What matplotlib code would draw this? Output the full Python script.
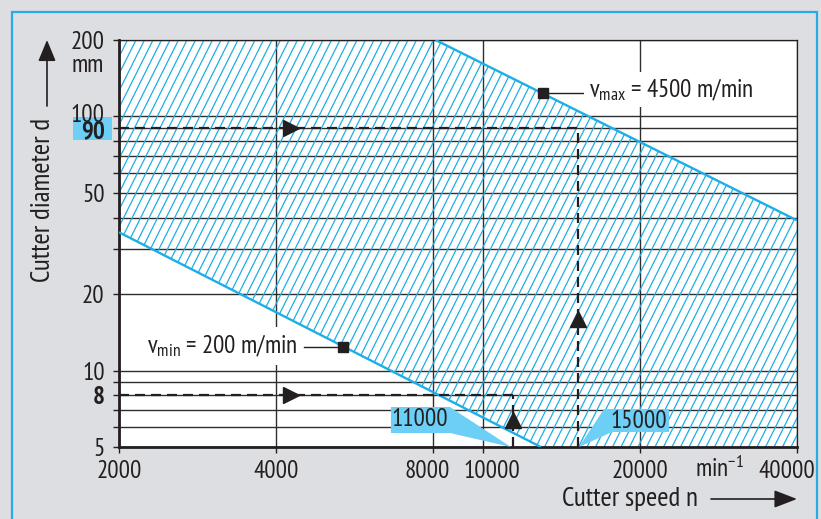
import numpy as np
import matplotlib
matplotlib.use("Agg")
import matplotlib.pyplot as plt
from matplotlib.patches import Polygon, Rectangle, FancyArrowPatch
from matplotlib.collections import LineCollection
from matplotlib.transforms import IdentityTransform, ScaledTranslation

plt.rcParams['font.family'] = ['PT Sans Narrow', 'DejaVu Sans']
plt.rcParams['mathtext.default'] = 'regular'

# chart data
n_lim = [2000, 40000]
d_lim = [5, 200]
vmax_n = [8100, 40000]
vmax_d = [200, 39]
vmin_n = [2000, 12900]
vmin_d = [35, 5]
x_ticks = [2000, 4000, 8000, 10000, 20000, 40000]
x_tick_labels = ['2000', '4000', '8000', '10000', '20000', '40000']
y_grid = [5, 6, 7, 8, 9, 10, 20, 30, 40, 50, 60, 70, 80, 90, 100, 200]
y_tick_labels = {200: '200', 100: '100', 90: '90', 50: '50', 20: '20', 10: '10', 8: '8', 5: '5'}
bold_labels = ['90', '8']
guide_n = [15200, 11400]
guide_d = [90, 8]
guide_text = ['15000', '11000']
arrow_n = 4270
arrow_up_d = [16, 6.4]
vmax_mark = (13000, 124)
vmin_mark = (5370, 12.4)

W, H = 821, 519
ink = '#231f20'
cyan = '#1eaee6'
light = '#6dcff6'
fs = 18

def P(x, y):
    # reference pixel (top-left origin) -> display coords
    return (x, H - y)

def nudge(lab, dx, dy):
    lab.set_transform(lab.get_transform() + ScaledTranslation(dx / 100, dy / 100, fig.dpi_scale_trans))

fig = plt.figure(figsize=(W / 100, H / 100), dpi=100, facecolor='#dcdee1')
ax = fig.add_axes([119 / W, (H - 447) / H, 678 / W, 407 / H])
ax.set_xscale('log')
ax.set_yscale('log')
ax.set_xlim(n_lim)
ax.set_ylim(d_lim)

# outer blue frame
fig.add_artist(Rectangle(P(12, 530), 805, 518, transform=IdentityTransform(),
                         fill=False, edgecolor='#29abe2', lw=1.6, zorder=-5))

# grid and ticks
ax.set_yticks(y_grid)
ax.set_yticklabels([y_tick_labels.get(v, '') for v in y_grid])
ax.yaxis.set_minor_locator(matplotlib.ticker.NullLocator())
ax.set_xticks(x_ticks)
ax.set_xticklabels(x_tick_labels)
ax.xaxis.set_minor_locator(matplotlib.ticker.NullLocator())
ax.grid(True, color='#2e2e2e', lw=1.0, zorder=1)
ax.set_axisbelow(True)
ax.tick_params(axis='y', length=4.3, width=1, color=ink, pad=6, labelsize=fs, labelcolor=ink)
ax.tick_params(axis='x', length=4, width=1, color=ink, pad=5, labelsize=fs, labelcolor=ink)
for lab in ax.get_yticklabels():
    if lab.get_text() in bold_labels:
        lab.set_fontweight('bold')
    if lab.get_text() == '100':
        nudge(lab, 0, 3)
    if lab.get_text() == '90':
        nudge(lab, 0, -1)
# nudge crowded x labels apart, as in the original
shift = {'8000': -6, '10000': 9, '40000': -10}
for lab in ax.get_xticklabels():
    if lab.get_text() in shift:
        nudge(lab, shift[lab.get_text()], 0)
for side in ['left', 'bottom']:
    ax.spines[side].set_linewidth(2.0)
    ax.spines[side].set_color(ink)
for side in ['top', 'right']:
    ax.spines[side].set_linewidth(0.9)
    ax.spines[side].set_color(ink)

# hatched region between the two speed limits
verts = [(n_lim[0], d_lim[1]), (vmax_n[0], vmax_d[0]), (vmax_n[1], vmax_d[1]),
         (n_lim[1], d_lim[0]), (vmin_n[1], vmin_d[1]), (vmin_n[0], vmin_d[0])]
region = Polygon(verts, closed=True, facecolor='none', edgecolor='none', transform=ax.transData)
ax.add_patch(region)
dx = 0.5 * 407 / 678
step = 8.5 / 678
segs = [[(u, 0), (u + dx, 1)] for u in np.arange(-dx, 1.0, step)]
hatch = LineCollection(segs, colors=cyan, linewidths=0.9, transform=ax.transAxes, zorder=2)
hatch.set_clip_path(region)
ax.add_collection(hatch)

ax.plot(vmax_n, vmax_d, color=cyan, lw=1.7, zorder=3, solid_capstyle='butt')
ax.plot(vmin_n, vmin_d, color=cyan, lw=1.7, zorder=3, solid_capstyle='butt')

# dashed read-off lines
for n, d in zip(guide_n, guide_d):
    ax.plot([n_lim[0], n], [d, d], color=ink, lw=1.6, dashes=(4.5, 2.7), zorder=4)
    ax.plot([n, n], [d_lim[0], d], color=ink, lw=1.6, dashes=(4.5, 2.7), zorder=4)
    ax.plot(arrow_n, d, marker='>', ms=11, color=ink, zorder=5, clip_on=False)
for n, d in zip(guide_n, arrow_up_d):
    ax.plot(n, d, marker='^', ms=11, color=ink, zorder=5)

# callouts at the bottom
shapes = {
    '11000': [(-122, -40), (-63, -40), (-2, 0), (-63, -14), (-122, -14)],
    '15000': [(1, 0), (26, -38), (91, -38), (91, -15), (34, -15)],
}
text_off = {'11000': (-93, -27), '15000': (61, -26)}
for n, lab in zip(guide_n, guide_text):
    tx, ty = ax.transData.transform((n, d_lim[0]))
    pts = [(tx + a, ty - b) for a, b in shapes[lab]]
    ax.add_patch(Polygon(pts, closed=True, facecolor=light, edgecolor='none',
                         transform=IdentityTransform(), zorder=6, clip_on=False))
    ox, oy = text_off[lab]
    ax.text(tx + ox, ty - oy, lab, transform=IdentityTransform(), fontsize=fs,
            color=ink, ha='center', va='center', zorder=7)

# speed limit labels
ax.plot(*vmax_mark, marker='s', ms=6.5, color=ink, zorder=6)
ax.plot(*vmin_mark, marker='s', ms=6.5, color=ink, zorder=6)
mx, my = ax.transData.transform(vmax_mark)
ax.plot([mx + 5, mx + 40], [my, my], color=ink, lw=1.0, transform=IdentityTransform(), zorder=6)
ax.text(mx + 46, my + 3, 'v$_{max}$ = 4500 m/min', transform=IdentityTransform(), fontsize=fs,
        color=ink, ha='left', va='center', zorder=7,
        bbox=dict(facecolor='white', edgecolor='none', pad=3))
mx, my = ax.transData.transform(vmin_mark)
ax.plot([mx - 39, mx - 5], [my, my], color=ink, lw=1.0, transform=IdentityTransform(), zorder=6)
ax.text(mx - 45, my + 1, 'v$_{min}$ = 200 m/min', transform=IdentityTransform(), fontsize=fs,
        color=ink, ha='right', va='center', zorder=7,
        bbox=dict(facecolor='white', edgecolor='none', pad=4))

# highlight box behind the 90 tick label
y90 = ax.transData.transform((n_lim[0], guide_d[0]))[1]
fig.add_artist(Rectangle((73, y90 - 12), 39, 23, transform=IdentityTransform(),
                         facecolor=light, edgecolor='none', zorder=-1))

# units and axis titles
fig.text(*P(104, 66), 'mm', transform=IdentityTransform(), fontsize=fs, color=ink, ha='right', va='center')
fig.text(*P(719, 469), 'min$^{-1}$', transform=IdentityTransform(), fontsize=fs, color=ink, ha='center', va='center')
fig.text(*P(43, 200), 'Cutter diameter d', transform=IdentityTransform(), fontsize=19.5, color=ink,
         rotation=90, ha='center', va='center')
fig.add_artist(FancyArrowPatch(P(47, 106), P(47, 40), transform=IdentityTransform(),
                               arrowstyle='-|>,head_length=0.65,head_width=0.27', mutation_scale=20,
                               lw=1.2, color=ink, shrinkA=0, shrinkB=0))
fig.text(*P(630, 499), 'Cutter speed n', transform=IdentityTransform(), fontsize=19.5, color=ink,
         ha='center', va='center')
fig.add_artist(FancyArrowPatch(P(711, 499), P(797, 499), transform=IdentityTransform(),
                               arrowstyle='-|>,head_length=0.7,head_width=0.27', mutation_scale=20,
                               lw=1.2, color=ink, shrinkA=0, shrinkB=0))

fig.savefig('out.png', dpi=100, facecolor=fig.get_facecolor())
